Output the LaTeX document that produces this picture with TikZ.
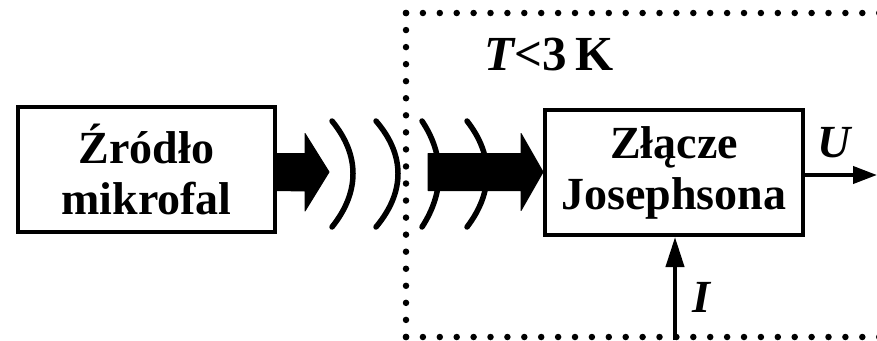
\documentclass[tikz,border=0pt]{standalone}
\usepackage{fontspec}
\setmainfont{Liberation Serif}
\usetikzlibrary{arrows.meta,calc}
\begin{document}
\begin{tikzpicture}[x=1pt,y=-1pt,
  blockbox/.style={draw,line width=4pt,minimum width=257pt,minimum height=125pt,
    align=center,inner sep=0pt,font=\fontsize{46}{51}\selectfont\bfseries},
  lbl/.style={font=\fontsize{46}{51}\selectfont\bfseries\itshape,inner sep=0pt},
  tlbl/.style={font=\fontsize{49}{51}\selectfont\bfseries,inner sep=0pt},
  dotline/.style={line width=6.5pt,line cap=round,dash pattern=on 0pt off 16.9pt},
  wave/.style={line width=5.5pt,line cap=round},
  thin arrow/.style={line width=4pt,-{Triangle[length=24pt,width=17pt]}},
  beam/.style={fill=black,draw=black,line width=1pt,line join=round}]
\useasboundingbox (0,0) rectangle (877,340);
\clip (0,0) rectangle (877,340);
% dotted cryostat frame
\coordinate (ftl) at (406,13);
\coordinate (fbl) at (406,337);
\coordinate (ftr) at (900,13);
\coordinate (fbr) at (900,337);
\draw[dotline] (ftl) -- (ftr);
\draw[dotline] (fbl) -- (fbr);
\draw[dotline,dash pattern=on 0pt off 17.05pt] (ftl) -- (fbl);
% blocks
\node[blockbox] (src) at (146.5,169.5) {Źródło\\mikrofal};
\node[blockbox,minimum width=258pt] (jj) at (674,172.5) {Złącze\\Josephsona};
\node[tlbl] (temp) at (549,55) {{\itshape T}<3\,K};
% first thick arrow
\path (src.east) ++(0,2.5) coordinate (b1);
\fill[beam] ($(b1)+(0,-18.5)$) -- ++(28,0) -- ++(0,-20) -- ($(b1)+(52,0)$)
  -- ($(b1)+(28,39)$) -- ++(0,-20) -- ($(b1)+(0,18.5)$) -- cycle;
% second thick arrow
\path (jj.west) ++(0,-0.5) coordinate (b2);
\fill[beam] ($(b2)+(-115,-18.5)$) -- ($(b2)+(-22,-18.5)$) -- ($(b2)+(-22,-38.5)$)
  -- (b2) -- ($(b2)+(-22,38.5)$) -- ($(b2)+(-22,18.5)$) -- ($(b2)+(-115,18.5)$) -- cycle;
% waves
\foreach \x/\b in {332/21, 376/22, 422/17, 467/20}{
  \draw[wave] (\x,121) .. controls ({\x+4*\b/3},155) and ({\x+4*\b/3},192) .. (\x,227);
}
% output U
\coordinate (uend) at (877,175);
\draw[thin arrow] (jj.east |- uend) -- (uend);
\node[lbl] (ul) at (834,143) {U};
% input I
\coordinate (istart) at (675,340);
\draw[thin arrow,-{Triangle[length=30pt,width=18pt]}] (istart) -- (istart |- jj.south);
\node[lbl] (il) at (701,297) {I};
\end{tikzpicture}
\end{document}
